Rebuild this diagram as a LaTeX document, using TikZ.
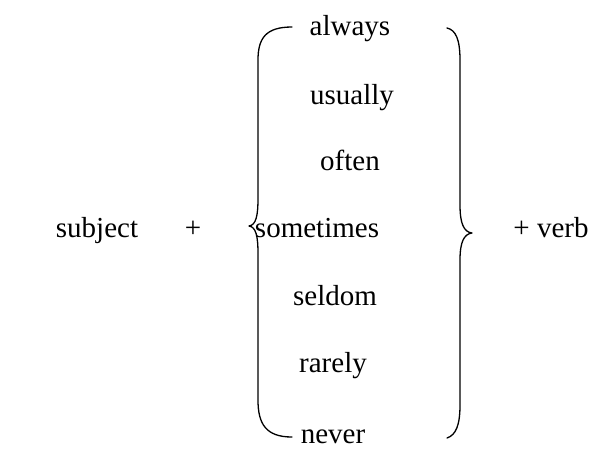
\documentclass[tikz,border=0pt]{standalone}
\usepackage{fontspec}
\setmainfont{Liberation Serif}
\begin{document}
\begin{tikzpicture}[x=1pt,y=-1pt,
  word/.style={inner sep=0pt,anchor=base,font=\fontsize{29}{31}\selectfont},
  brace/.style={line width=1.3pt,line cap=round,line join=round}]
\useasboundingbox (0,0) rectangle (605,448);
\node[word] (always) at (350,35) {always};
\node[word] (usually) at (352,104) {usually};
\node[word] (often) at (350,170) {often};
\node[word] (sometimes) at (317,237) {sometimes};
\node[word] (seldom) at (335,305) {seldom};
\node[word] (rarely) at (333,372) {rarely};
\node[word] (never) at (333,443) {never};
\node[word] (subject) at (97,237) {subject};
\node[word] (plus) at (193,237) {+};
\node[word] (verb) at (551,237) {+ verb};
% left brace
\draw[brace] (292,27) .. controls (266,27) and (258,38) .. (258,60)
  -- (258,198) .. controls (258,216) and (256,225) .. (249,226)
  .. controls (256,227) and (258,236) .. (258,254)
  -- (258,400) .. controls (258,424) and (266,437) .. (292,437);
% right brace
\draw[brace] (447,28) .. controls (456,30) and (460,40) .. (460,60)
  -- (460,205) .. controls (460,224) and (464,232) .. (472,233)
  .. controls (464,234) and (460,242) .. (460,260)
  -- (460,405) .. controls (460,425) and (456,435) .. (447,438);
\end{tikzpicture}
\end{document}
